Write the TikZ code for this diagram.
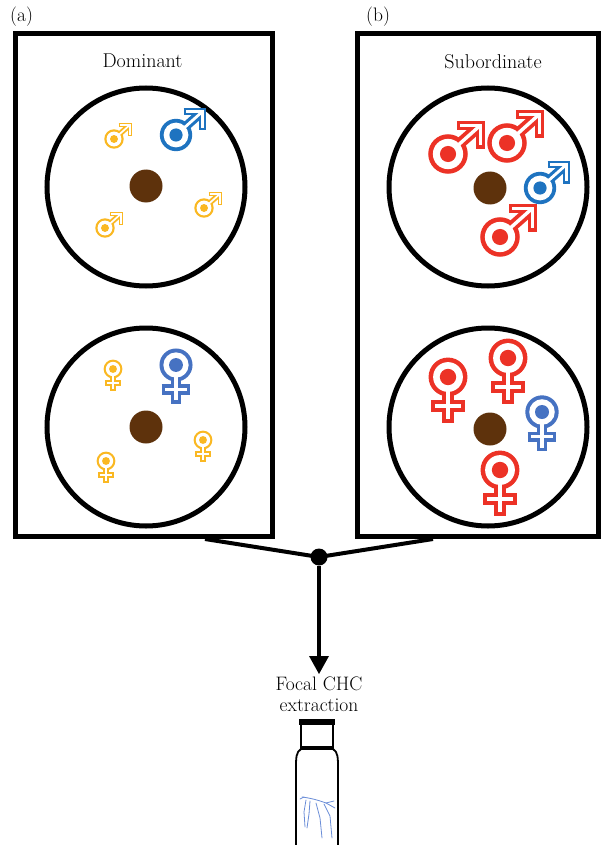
\documentclass[tikz,border=0pt]{standalone}
\usepackage{tikz}
\usetikzlibrary{positioning}

\definecolor{maleblue}{RGB}{30,115,192}
\definecolor{femblue}{RGB}{70,114,194}
\definecolor{gold}{RGB}{250,184,34}
\definecolor{scarlet}{RGB}{236,50,38}
\definecolor{foodbrown}{RGB}{94,50,12}
\definecolor{bugblue}{RGB}{105,140,215}

% #1,#2 centre of the ring, #3 size, #4 colour
\newcommand{\malesign}[4]{%
  \begin{scope}[shift={(#1,#2)},scale=#3]
    \draw [#4,line width=#3*9pt] (0,0) -- (26.5,-23.5);
    \draw [#4,line width=#3*7.6pt,line join=miter] (7.5,-23.5) -- (26.5,-23.5) -- (26.5,-4.5);
    \fill [#4] (0,0) circle (16.2);
    \draw [white,line width=#3*2.8pt] (8,-7) -- (26.5,-23.5);
    \draw [white,line width=#3*2.8pt,line join=miter] (10.1,-23.5) -- (26.5,-23.5) -- (26.5,-7.1);
    \fill [white] (0,0) circle (12.4);
    \fill [#4] (0,0) circle (6.6);
  \end{scope}}
\newcommand{\femalesign}[4]{%
  \begin{scope}[shift={(#1,#2)},scale=#3]
    \draw [#4,line width=#3*10pt] (0,0) -- (0,38) (-14,24) -- (14,24);
    \fill [#4] (0,0) circle (16.2);
    \draw [white,line width=#3*3.4pt] (0,8) -- (0,34.7) (-10.7,24) -- (10.7,24);
    \fill [white] (0,0) circle (12.4);
    \fill [#4] (0,0) circle (6.8);
  \end{scope}}

\tikzset{
  panel/.style={draw=black,line width=5pt,minimum height=503pt},
  dish/.style={black,line width=5pt},
  link/.style={black,line width=4pt},
  caption/.style={font=\fontsize{20}{24}\selectfont},
  tag/.style={font=\fontsize{19.5}{21}\selectfont},
  bug/.style={bugblue,line width=0.8pt,line cap=round},
}

\begin{document}
\begin{tikzpicture}[x=1pt,y=-1pt]
\tikzstyle{every node}+=[inner sep=0pt]
\useasboundingbox (0,0) rectangle (614,845);

\node [panel,minimum width=257pt] (dom) at (144,285) {};
\node [panel,minimum width=241pt] (sub) at (478,285) {};
\node [tag,anchor=west] (taga) at (10,17) {(a)};
\node [tag,anchor=west] (tagb) at (366,17) {(b)};
\node [caption,below=23pt of dom.north,xshift=-1.5pt] (domtitle) {Dominant};
\node [caption,below=23pt of sub.north,xshift=15pt] (subtitle) {Subordinate};

\draw [dish] (146,187) circle (99);
\draw [dish] (146,427) circle (99);
\draw [dish] (488,187) circle (99);
\draw [dish] (488,427) circle (99);
\fill [foodbrown] (146,186) circle (16.5);
\fill [foodbrown] (146,427) circle (16.5);
\fill [foodbrown] (490,188) circle (16.5);
\fill [foodbrown] (490,429) circle (16.5);

\malesign{176}{135}{1}{maleblue}
\malesign{114}{139}{0.6}{gold}
\malesign{105}{228}{0.6}{gold}
\malesign{204}{208}{0.6}{gold}

\femalesign{176}{365}{1.02}{femblue}
\femalesign{113}{369}{0.58}{gold}
\femalesign{106}{461}{0.58}{gold}
\femalesign{203}{440}{0.58}{gold}

\malesign{448}{154}{1.22}{scarlet}
\malesign{507}{143}{1.22}{scarlet}
\malesign{500}{237}{1.22}{scarlet}
\malesign{540}{188}{1}{maleblue}

\femalesign{448}{377}{1.2}{scarlet}
\femalesign{508}{358}{1.2}{scarlet}
\femalesign{500}{470}{1.2}{scarlet}
\femalesign{542}{412}{1.03}{femblue}

\node [circle,fill=black,minimum size=17pt] (hub) at (319,557) {};
\draw [link] ([xshift=61pt]dom.south) -- (hub.center);
\draw [link] ([xshift=-45pt]sub.south) -- (hub.center);
\coordinate (tip) at (319,674);
\draw [link] (hub) -- ([yshift=10pt]tip);
\fill [black] (tip) -- ++(-10,-18) -- ++(20,0) -- cycle;
\node [tag,align=center,below=3pt of tip] (focal) {Focal CHC\\extraction};

\fill [black] (299,719) rectangle (335,725);
\draw [black,line width=1.8pt] (301,725) -- (301,749);
\draw [black,line width=1.8pt] (333,725) -- (333,749);
\draw [black,line width=3.5pt] (300,748) -- (334,748);
\draw [black,line width=1.8pt] (301,749) .. controls (296,752) and (296,758) .. (296,768) -- (296,846);
\draw [black,line width=1.8pt] (333,749) .. controls (338,752) and (338,758) .. (338,768) -- (338,846);

\draw [bug] (302,797) .. controls (310,798) and (318,800) .. (326,803) -- (334,801);
\draw [bug] (300,799) -- (304,797);
\draw [bug] (306,800) -- (304,812) -- (305,827);
\draw [bug] (310,801) -- (309,814) -- (307,828);
\draw [bug] (316,803) -- (320,818) -- (322,838);
\draw [bug] (324,804) -- (330,816) -- (332,838);
\draw [bug] (326,803) -- (335,808);
\end{tikzpicture}
\end{document}
